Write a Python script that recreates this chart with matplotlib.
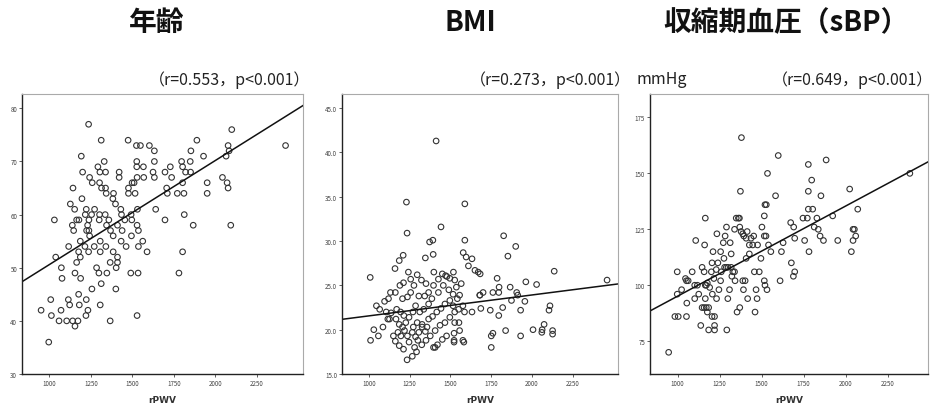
import numpy as np
import matplotlib
matplotlib.use('Agg')
import matplotlib.pyplot as plt

plt.rcParams['font.family'] = ['Noto Sans CJK JP', 'DejaVu Sans']

# ---- data ----
titles = ['年齢', 'BMI', '収縮期血圧（sBP）']
stats = ['（r=0.553，p<0.001）', '（r=0.273，p<0.001）', '（r=0.649，p<0.001）']
unit_label = 'mmHg'
xlabel = 'rPWV'
x_ticks = [1000, 1250, 1500, 1750, 2000, 2250]

# age panel: rPWV, age
age_x = [1236, 2098, 1312, 1474, 1888, 1524, 1548, 1602, 2076, 2422,
         1632, 1852, 2082, 1192, 1928, 2064, 1330, 1526, 1632, 1796, 1848,
         1292, 1526, 1566, 1728, 1802, 1200, 1304, 1338, 1420, 1624, 1696, 1820, 1850,
         1242, 1420, 1528, 1568, 1632, 1736, 2042, 1258, 1302, 1498, 1510, 1802, 1950, 2070,
         1142, 1314, 1338, 1476, 1706, 2076, 1342, 1386, 1476, 1516, 1710, 1770, 1810, 1950,
         1196, 1382, 1126, 1398, 1152, 1222, 1272, 1430, 1530, 1640,
         1216, 1254, 1302, 1336, 1434, 1492, 1812,
         1030, 1164, 1178, 1238, 1300, 1358, 1454, 1496, 1696,
         1138, 1230, 1344, 1410, 1528, 1866, 2092, 1146, 1224, 1238, 1368, 1438, 1536,
         1242, 1384, 1494, 1186, 1306, 1432, 1562, 1116, 1214, 1270, 1340, 1462, 1536,
         1176, 1236, 1306, 1384, 1588, 1802, 1038, 1186, 1410, 1164, 1366, 1410,
         1072, 1284, 1402, 1154, 1298, 1346, 1490, 1534, 1780, 1076, 1188, 1312,
         1256, 1400, 1176, 1008, 1114, 1222, 1122, 1180, 1306, 950, 1070, 1232,
         1012, 1220, 1528, 1058, 1104, 1140, 1172, 1366, 1154, 996]
age_y = [77, 76, 74, 74, 74, 73, 73, 73, 73, 73,
         72, 72, 72, 71, 71, 71, 70, 70, 70, 70, 70,
         69, 69, 69, 69, 69, 68, 68, 68, 68, 68, 68, 68, 68,
         67, 67, 67, 67, 67, 67, 67, 66, 66, 66, 66, 66, 66, 66,
         65, 65, 65, 65, 65, 65, 64, 64, 64, 64, 64, 64, 64, 64,
         63, 63, 62, 62, 61, 61, 61, 61, 61, 61,
         60, 60, 60, 60, 60, 60, 60,
         59, 59, 59, 59, 59, 59, 59, 59, 59,
         58, 58, 58, 58, 58, 58, 58, 57, 57, 57, 57, 57, 57,
         56, 56, 56, 55, 55, 55, 55, 54, 54, 54, 54, 54, 54,
         53, 53, 53, 53, 53, 53, 52, 52, 52, 51, 51, 51,
         50, 50, 50, 49, 49, 49, 49, 49, 49, 48, 48, 47,
         46, 46, 45, 44, 44, 44, 43, 43, 43, 42, 42, 42,
         41, 41, 41, 40, 40, 40, 40, 40, 39, 36]

# BMI panel: rPWV, BMI
bmi_x = [1412, 1230, 1588, 1442, 1234, 1392, 1372, 1394, 1346, 1588, 1578, 1596,
         1632, 1826, 1900, 1852, 1650, 1670, 1682, 1610, 1008, 1296, 1398, 1518,
         1478, 1786, 2136, 2460, 2028, 1962, 1866, 1798, 1906, 1912, 1956, 1930,
         1820, 1874, 1796, 2006, 2060, 2062, 2074, 2110, 2104, 2126, 2126, 1838,
         1930, 1750, 1760, 1750, 1760, 1700, 1796, 1680, 1744, 1686,
         1010, 1058, 1030, 1086, 1116, 1126, 1066, 1046, 1096, 1120, 1132, 1162,
         1190, 1212, 1242, 1256, 1160, 1186, 1210, 1322, 1350, 1206, 1236, 1256,
         1286, 1312, 1336, 1366, 1386, 1426, 1456, 1490, 1516, 1542, 1550, 1526,
         1496, 1466, 1436, 1406, 1376, 1350, 1324, 1292, 1266, 1234, 1212, 1186,
         1162, 1150, 1178, 1206, 1226, 1246, 1270, 1296, 1326, 1346, 1266, 1236,
         1286, 1306, 1366, 1390, 1416, 1442, 1466, 1496, 1516, 1526, 1522, 1522,
         1522, 1476, 1450, 1420, 1396, 1406, 1106, 1136, 1170, 1194, 1214, 1166,
         1186, 1218, 1196, 1246, 1280, 1300, 1272, 1326, 1356, 1342, 1306, 1276,
         1366, 1396, 1426, 1450, 1470, 1496, 1526, 1536, 1566, 1556, 1576, 1586,
         1552, 1556, 1576, 1582, 1632, 1680]
bmi_y = [41.3, 34.4, 34.2, 31.6, 30.9, 30.1, 29.9, 28.5, 28.1, 30.1, 28.7, 28.2,
         28.0, 30.6, 29.4, 28.3, 26.7, 26.5, 26.3, 27.2, 25.9, 26.2, 26.5, 26.5,
         26.0, 25.8, 26.6, 25.6, 25.1, 25.4, 24.8, 24.8, 24.2, 23.9, 23.2, 22.2,
         22.5, 23.3, 21.6, 20.0, 19.7, 20.0, 20.6, 22.7, 22.2, 19.9, 19.5, 19.9,
         19.3, 19.3, 19.6, 18.0, 24.2, 24.2, 24.2, 23.9, 22.2, 22.4,
         18.8, 19.3, 20.0, 20.3, 21.2, 21.2, 22.3, 22.7, 23.2, 23.5, 24.2, 24.2,
         25.0, 25.3, 26.5, 25.7, 26.9, 27.8, 28.4, 25.6, 25.2, 23.5, 23.7, 24.2,
         22.7, 22.0, 22.3, 22.9, 23.5, 24.2, 25.0, 24.5, 24.0, 23.5, 22.3, 22.0,
         21.4, 20.8, 20.5, 19.9, 19.3, 18.8, 18.3, 17.5, 17.0, 16.6, 17.8, 18.2,
         18.7, 19.3, 19.7, 20.3, 20.8, 21.4, 22.0, 20.8, 20.3, 19.8, 19.7, 19.3,
         19.2, 19.7, 21.2, 21.5, 22.0, 22.4, 22.9, 23.3, 22.7, 20.8, 19.6, 18.8,
         18.6, 19.3, 18.9, 18.3, 18.0, 18.0, 22.0, 21.9, 22.3, 22.0, 21.6, 21.2,
         20.6, 19.9, 19.3, 18.6, 18.0, 18.8, 20.3, 20.6, 20.3, 23.8, 23.8, 25.0,
         24.2, 25.0, 25.7, 26.3, 26.1, 25.8, 25.6, 24.8, 25.2, 23.9, 22.7, 22.0,
         20.8, 19.9, 18.8, 18.6, 22.0, 23.9]

# sBP panel: rPWV, mmHg
sbp_x = [947, 984, 1004, 1053, 998, 998, 1024, 1047, 1053, 1063, 1055, 1087,
         1108, 1102, 1118, 1102, 1126, 1138, 1146, 1158, 1161, 1165, 1165, 1171,
         1146, 1158, 1171, 1185, 1165, 1177, 1185, 1205, 1220, 1207, 1205, 1211,
         1220, 1220, 1232, 1234, 1246, 1260, 1256, 1272, 1276, 1291, 1283, 1293,
         1299, 1309, 1313, 1319, 1319, 1329, 1339, 1339, 1349, 1362, 1368, 1374,
         1380, 1370, 1354, 1370, 1378, 1388, 1394, 1408, 1388, 1402, 1392, 1417,
         1427, 1437, 1453, 1467, 1473, 1461, 1457, 1486, 1496, 1502, 1516, 1520,
         1528, 1516, 1526, 1516, 1532, 1520, 1535, 1541, 1555, 1583, 1599, 1610,
         1618, 1628, 1673, 1677, 1689, 1697, 1697, 1691, 1746, 1772, 1756, 1778,
         1778, 1782, 1778, 1798, 1804, 1813, 1829, 1837, 1853, 1848, 1868, 1884,
         1923, 1953, 2024, 2034, 2044, 2052, 2044, 2060, 2072, 2382,
         1280, 1290, 1300, 1323, 1342, 1256, 1230, 1240, 1216, 1191, 1177, 1201,
         1408, 1427, 1447, 1476, 1414]
sbp_y = [70, 86, 86, 86, 96, 106, 98, 103, 102, 102, 92, 106,
         120, 100, 100, 94, 96, 82, 108, 106, 118, 130, 100, 100,
         90, 90, 90, 90, 94, 88, 80, 86, 86, 96, 110, 115,
         82, 80, 94, 123, 98, 106, 115, 119, 112, 126, 122, 80,
         94, 98, 119, 114, 108, 106, 106, 125, 130, 130, 130, 142,
         166, 90, 88, 126, 124, 123, 122, 121, 102, 102, 98, 94,
         118, 121, 122, 98, 94, 88, 106, 106, 112, 126, 131, 136,
         136, 122, 122, 102, 98, 100, 150, 118, 115, 140, 158, 102,
         115, 119, 128, 110, 104, 106, 121, 126, 130, 130, 120, 134,
         142, 115, 154, 147, 134, 126, 130, 125, 140, 122, 120, 156,
         131, 120, 143, 115, 125, 125, 120, 122, 134, 150,
         108, 108, 108, 104, 102, 102, 107, 110, 103, 99, 101, 106,
         112, 114, 118, 118, 124]

# regression lines (intercept, slope)
fits = [(31.0, 0.0196), (19.2, 0.00236), (54.8, 0.0403)]

panels = [
    (age_x, age_y, (835, 2527), (30, 82.7), [30, 40, 50, 60, 70, 80], '{:.0f}'),
    (bmi_x, bmi_y, (835, 2527), (15, 46.6), [15, 20, 25, 30, 35, 40, 45], '{:.1f}'),
    (sbp_x, sbp_y, (836, 2490), (60.3, 185.5), [75, 100, 125, 150, 175], '{:.0f}'),
]

# axes boxes in pixels: left, right ; right edge of the r/p text
boxes = [(22, 303), (342, 618), (650, 928)]
stat_right = [310, 631, 933]
top, bottom = 95, 375
W, H = 933, 410

fig = plt.figure(figsize=(W / 100, H / 100), dpi=100)
fig.patch.set_facecolor('white')

for i, (xs, ys, xlim, ylim, yticks, fmt) in enumerate(panels):
    l, r = boxes[i]
    ax = fig.add_axes([l / W, (H - bottom) / H, (r - l) / W, (bottom - top) / H])
    ax.scatter(xs, ys, s=16, facecolors='none', edgecolors='#333333', linewidths=0.8)
    b0, b1 = fits[i]
    lx = np.array(xlim)
    ax.plot(lx, b0 + b1 * lx, color='#111111', lw=1.1)
    ax.set_xlim(xlim)
    ax.set_ylim(ylim)
    ax.set_xticks(x_ticks)
    ax.set_yticks(yticks)
    ax.set_yticklabels([fmt.format(v) for v in yticks])
    ax.tick_params(labelsize=4.5, length=2, width=0.6, colors='#444444', pad=1.5)
    for side in ['top', 'right']:
        ax.spines[side].set_color('#aaaaaa')
        ax.spines[side].set_linewidth(0.8)
    for side in ['left', 'bottom']:
        ax.spines[side].set_color('#222222')
        ax.spines[side].set_linewidth(1.0)
    ax.set_xlabel(xlabel, fontsize=6.5, fontweight='bold', color='#333333', labelpad=6,
                  family='DejaVu Sans')
    # r / p annotation above the axes, right aligned
    fig.text(stat_right[i] / W, (H - 80) / H, stats[i], ha='right', va='center',
             fontsize=11.5, color='#222222')

title_x = [157, 470, 786]
for tx, t in zip(title_x, titles):
    fig.text(tx / W, (H - 23) / H, t, ha='center', va='center', fontsize=20,
             fontweight='bold', color='#111111')

fig.text(636 / W, (H - 80) / H, unit_label, ha='left', va='center', fontsize=11.5,
         color='#222222')

fig.savefig('out.png', dpi=100, facecolor='white')
